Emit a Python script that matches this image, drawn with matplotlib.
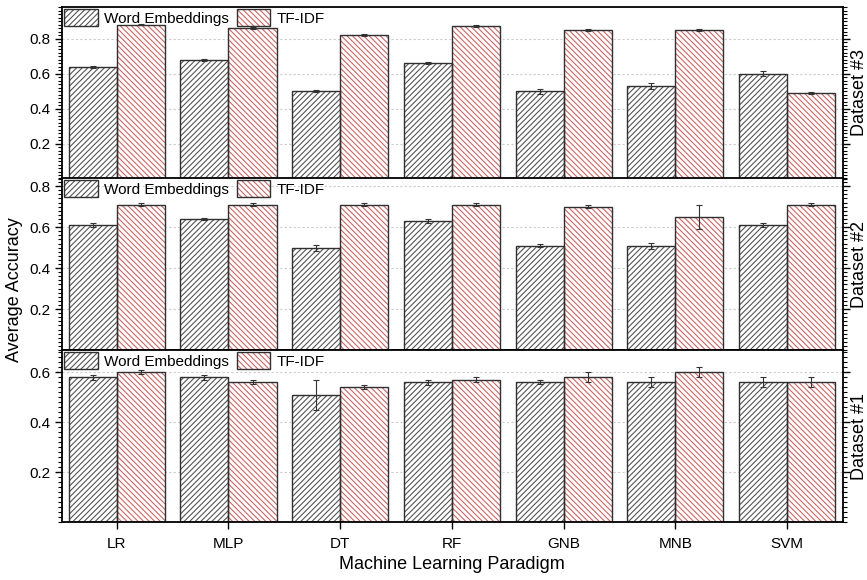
import numpy as np
import matplotlib.pyplot as plt
from matplotlib.ticker import MultipleLocator, FixedLocator
from matplotlib.patches import Patch

plt.rcParams['font.family'] = ['Liberation Sans', 'DejaVu Sans']
plt.rcParams['hatch.linewidth'] = 0.8

models = ['LR', 'MLP', 'DT', 'RF', 'GNB', 'MNB', 'SVM']

# Dataset #3
d3_we = [0.64, 0.68, 0.50, 0.66, 0.50, 0.53, 0.60]
d3_we_err = [0.006, 0.006, 0.006, 0.006, 0.015, 0.015, 0.015]
d3_tf = [0.88, 0.86, 0.82, 0.87, 0.85, 0.85, 0.49]
d3_tf_err = [0.004, 0.006, 0.006, 0.006, 0.006, 0.006, 0.005]

# Dataset #2
d2_we = [0.61, 0.64, 0.50, 0.63, 0.51, 0.51, 0.61]
d2_we_err = [0.008, 0.004, 0.015, 0.008, 0.008, 0.015, 0.008]
d2_tf = [0.71, 0.71, 0.71, 0.71, 0.70, 0.65, 0.71]
d2_tf_err = [0.006, 0.006, 0.006, 0.006, 0.008, 0.06, 0.006]

# Dataset #1
d1_we = [0.58, 0.58, 0.51, 0.56, 0.56, 0.56, 0.56]
d1_we_err = [0.01, 0.01, 0.06, 0.01, 0.008, 0.02, 0.02]
d1_tf = [0.60, 0.56, 0.54, 0.57, 0.58, 0.60, 0.56]
d1_tf_err = [0.008, 0.008, 0.008, 0.01, 0.02, 0.02, 0.02]

panels = [
    ('Dataset #3', d3_we, d3_we_err, d3_tf, d3_tf_err, 0.98, [0.2, 0.4, 0.6, 0.8]),
    ('Dataset #2', d2_we, d2_we_err, d2_tf, d2_tf_err, 0.84, [0.2, 0.4, 0.6, 0.8]),
    ('Dataset #1', d1_we, d1_we_err, d1_tf, d1_tf_err, 0.69, [0.2, 0.4, 0.6]),
]

we_col = '#555555'
tf_col = '#cc6666'
edge = '#303030'
we_hatch = '//////'
tf_hatch = '\\\\\\\\\\\\'
w = 0.43
x = np.arange(len(models))

fig = plt.figure(figsize=(8.67, 5.8), dpi=100)
left, width = 62 / 867, 781 / 867
tops = [7, 178, 350]
h = 172

for i, (name, we, we_err, tf, tf_err, ytop, yt) in enumerate(panels):
    y0 = 1 - (tops[i] + h) / 580
    ax = fig.add_axes([left, y0, width, h / 580])
    ax.set_axisbelow(True)
    ax.grid(axis='y', linestyle=(0, (2, 2)), color='#cccccc', linewidth=0.8)

    # hatch layer and outline layer, so hatch colour differs from the edge
    ax.bar(x - w / 2, we, w, color='white', edgecolor=we_col, hatch=we_hatch, linewidth=0)
    ax.bar(x + w / 2, tf, w, color='white', edgecolor=tf_col, hatch=tf_hatch, linewidth=0)
    ax.bar(x - w / 2, we, w, color='none', edgecolor=edge, linewidth=1.0)
    ax.bar(x + w / 2, tf, w, color='none', edgecolor=edge, linewidth=1.0)
    ax.errorbar(x - w / 2, we, yerr=we_err, fmt='none', ecolor='#333333', elinewidth=0.8, capsize=2.5, capthick=0.8)
    ax.errorbar(x + w / 2, tf, yerr=tf_err, fmt='none', ecolor='#333333', elinewidth=0.8, capsize=2.5, capthick=0.8)

    ax.set_xlim(-0.49, 6.5)
    ax.set_ylim(0, ytop)
    ax.yaxis.set_major_locator(FixedLocator(yt))
    ax.yaxis.set_minor_locator(MultipleLocator(0.02))
    ax.set_yticklabels(['%.1f' % v for v in yt])
    ax.tick_params(axis='y', which='both', direction='out', right=True, labelsize=11, width=1)
    ax.tick_params(axis='y', which='major', length=5)
    ax.tick_params(axis='y', which='minor', length=3, width=0.8)
    ax.set_xticks(x)
    if i == 2:
        ax.set_xticklabels(models, fontsize=11)
        ax.tick_params(axis='x', length=5, width=1, pad=6)
    else:
        ax.tick_params(axis='x', bottom=False, labelbottom=False)
    for sp in ax.spines.values():
        sp.set_linewidth(1.3)

    handles = [(Patch(facecolor='white', edgecolor=we_col, hatch=we_hatch, linewidth=0),
                Patch(facecolor='none', edgecolor=edge, linewidth=1.0)),
               (Patch(facecolor='white', edgecolor=tf_col, hatch=tf_hatch, linewidth=0),
                Patch(facecolor='none', edgecolor=edge, linewidth=1.0))]
    ax.legend(handles, ['Word Embeddings', 'TF-IDF'], loc='upper left', ncol=2, frameon=False,
              fontsize=11, handlelength=2.2, handleheight=1.3, handletextpad=0.4,
              columnspacing=0.5, borderaxespad=0.05, borderpad=0.1,
              bbox_to_anchor=(0.0, 1.0))

    fig.text(851 / 867, y0 + h / 580 / 2, name, rotation=90, va='center', ha='left', fontsize=13)

fig.text(0.017, 0.5, 'Average Accuracy', rotation=90, va='center', ha='center', fontsize=13)
fig.text(0.521, 0.026, 'Machine Learning Paradigm', va='center', ha='center', fontsize=13)

fig.savefig('out.png', dpi=100)
